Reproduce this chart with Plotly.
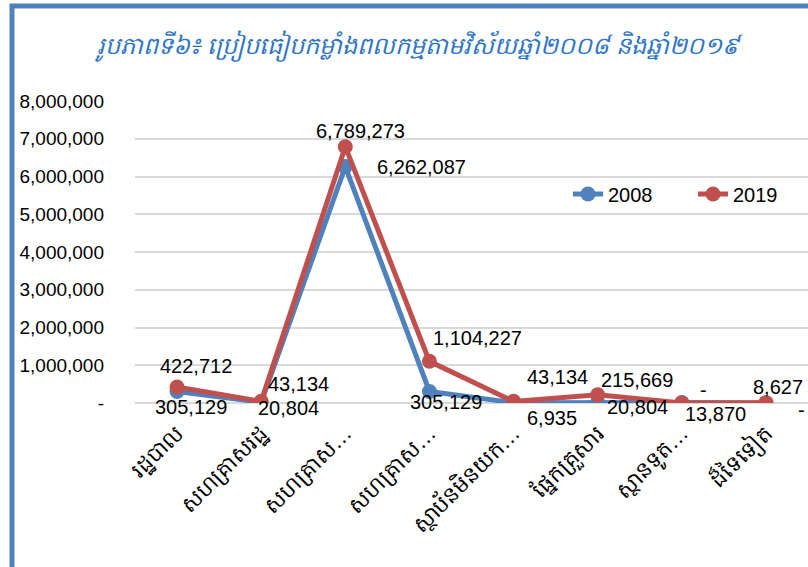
import plotly.graph_objects as go

categories = ["រដ្ឋបាល", "សហគ្រាសរដ្ឋ", "សហគ្រាស…", "សហគ្រាស…",
              "ស្ថាប័នមិនយក…", "ផ្នែកគ្រួសារ", "ស្ថានទូត…", "ដ៏ទៃទៀត"]
values_2008 = [305129, 20804, 6262087, 305129, 6935, 20804, 13870, 0]
values_2019 = [422712, 43134, 6789273, 1104227, 43134, 215669, 0, 8627]
tick_vals = [0, 1000000, 2000000, 3000000, 4000000, 5000000, 6000000, 7000000, 8000000]
tick_text = ["-", "1,000,000", "2,000,000", "3,000,000", "4,000,000",
             "5,000,000", "6,000,000", "7,000,000", "8,000,000"]

BLUE = "#4F81BD"
RED = "#C0504D"
W, H = 808, 567
L, R, T, B = 135, 0, 101, 164


def fmt(v):
    return "-" if v == 0 else f"{v:,}"


x = list(range(len(categories)))
fig = go.Figure()
fig.add_trace(go.Scatter(x=x, y=values_2008, name="2008", mode="lines+markers",
                         line=dict(color=BLUE, width=5), marker=dict(size=15, color=BLUE)))
fig.add_trace(go.Scatter(x=x, y=values_2019, name="2019", mode="lines+markers",
                         line=dict(color=RED, width=5), marker=dict(size=15, color=RED)))

# data label offsets in pixels (dx, dy up)
shift_2008 = [(14, -16), (27, -6), (76, 0), (17, -11), (38, -15), (40, -5), (34, -12), (36, -7)]
shift_2019 = [(19, 21), (37, 17), (15, 16), (48, 23), (44, 24), (39, 15), (22, 13), (12, 16)]
for vals, shifts in ((values_2008, shift_2008), (values_2019, shift_2019)):
    for i, (v, (dx, dy)) in enumerate(zip(vals, shifts)):
        fig.add_annotation(x=i, y=v, text=fmt(v), showarrow=False, xshift=dx, yshift=dy,
                           font=dict(size=20, color="black", family="Liberation Sans, Arial"))

pw = W - L - R
ph = H - T - B
fig.add_shape(type="rect", xref="paper", yref="paper",
              x0=(12 - L) / pw, x1=(830 - L) / pw,
              y0=(H - B - 620) / ph, y1=1 + (T - 6) / ph,
              line=dict(color=BLUE, width=5), layer="above")

fig.update_layout(
    width=W, height=H,
    margin=dict(l=L, r=R, t=T, b=B, autoexpand=False),
    paper_bgcolor="white", plot_bgcolor="white",
    font=dict(family="Liberation Sans, Arial", color="black"),
    title=dict(text="រូបភាពទី៦៖ ប្រៀបធៀបកម្លាំងពលកម្មតាមវិស័យឆ្នាំ២០០៨ និងឆ្នាំ២០១៩",
               x=0.517, xanchor="center", y=1 - 46 / H, yanchor="middle",
               font=dict(size=24, color="#2E75C6", style="italic")),
    showlegend=True,
    legend=dict(orientation="h", x=(568 - L) / pw, xanchor="left",
                y=(H - B - 194) / ph, yanchor="middle",
                font=dict(size=20), bgcolor="rgba(0,0,0,0)",
                entrywidth=80, entrywidthmode="pixels"),
    xaxis=dict(tickmode="array", tickvals=x, ticktext=categories, range=[-0.5, 7.5],
               tickangle=-45, tickfont=dict(size=22), showgrid=False, zeroline=False,
               showline=False, ticks="", automargin=False, ticklabelstandoff=12),
    yaxis=dict(range=[0, 8000000], tickmode="array", tickvals=tick_vals, ticktext=tick_text,
               tickfont=dict(size=19), showgrid=True, gridcolor="#D9D9D9", gridwidth=2,
               zeroline=True, zerolinecolor="#D9D9D9", zerolinewidth=2,
               showline=False, ticklabelstandoff=30, automargin=False),
)

# drop the page's default body margin so the chart sits at the window corner
fig.write_html("out.html", config={"displayModeBar": False},
               post_script="document.body.style.margin = '0';")
